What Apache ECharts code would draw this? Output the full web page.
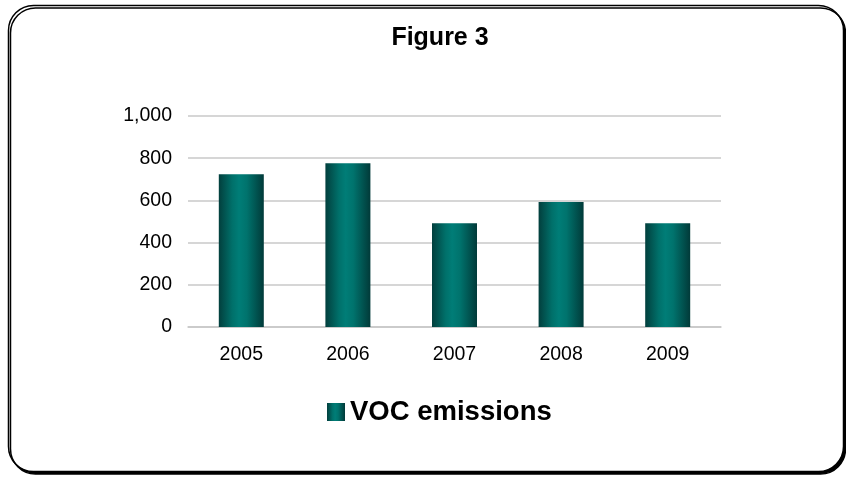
<!DOCTYPE html>
<html>
<head>
<meta charset="utf-8">
<script src="https://cdn.jsdelivr.net/npm/echarts@6/dist/echarts.min.js"></script>
<style>
html,body{margin:0;padding:0;background:#fff;}
#c{width:846px;height:477px;}
</style>
</head>
<body>
<div id="c"></div>
<script>
const categories = ['2005', '2006', '2007', '2008', '2009'];
const vocEmissions = [724, 776, 492, 592, 492];
const seriesName = 'VOC emissions';
const titleText = 'Figure 3';

const barGradient = {
  type: 'linear', x: 0, y: 0, x2: 1, y2: 0,
  colorStops: [
    {offset: 0, color: '#023f3d'},
    {offset: 0.3, color: '#00706a'},
    {offset: 0.45, color: '#007d77'},
    {offset: 0.62, color: '#00736d'},
    {offset: 1, color: '#013a39'}
  ]
};

const chart = echarts.init(document.getElementById('c'), null, {renderer: 'canvas'});
chart.setOption({
  animation: false,
  backgroundColor: '#fff',
  graphic: [{
    type: 'rect',
    z: -10,
    silent: true,
    shape: {x: 8.5, y: 5.5, width: 835, height: 466, r: 25},
    style: {fill: '#fff', stroke: '#000', lineWidth: 1.5,
      shadowColor: '#000', shadowOffsetX: 2, shadowOffsetY: 2.5, shadowBlur: 0}
  }],
  title: {
    text: titleText,
    left: 435, top: 21,
    textAlign: 'center',
    textStyle: {fontFamily: 'Liberation Sans', fontWeight: 'bold', fontSize: 25, color: '#000'}
  },
  grid: {left: 188, right: 125, top: 116, bottom: 150, containLabel: false},
  xAxis: {
    type: 'category',
    data: categories,
    axisLine: {show: true, lineStyle: {color: '#c8c8c8', width: 1.5}},
    axisTick: {show: false},
    axisLabel: {color: '#000', fontFamily: 'Liberation Sans', fontSize: 19.5, margin: 18}
  },
  yAxis: {
    type: 'value',
    min: 0, max: 1000, interval: 200,
    axisLine: {show: false},
    axisTick: {show: false},
    splitLine: {lineStyle: {color: '#c8c8c8', width: 1.5}},
    axisLabel: {
      color: '#000', fontFamily: 'Liberation Sans', fontSize: 19.5, margin: 16,
      formatter: v => v.toLocaleString('en-US')
    }
  },
  legend: {
    data: [{name: seriesName, icon: 'rect'}],
    left: 322, top: 393,
    itemWidth: 18, itemHeight: 18, itemGap: 10,
    textStyle: {fontFamily: 'Liberation Sans', fontWeight: 'bold', fontSize: 27.5, color: '#000'}
  },
  series: [{
    name: seriesName,
    type: 'bar',
    data: vocEmissions,
    barWidth: 45,
    itemStyle: {color: barGradient}
  }]
});
</script>
</body>
</html>
